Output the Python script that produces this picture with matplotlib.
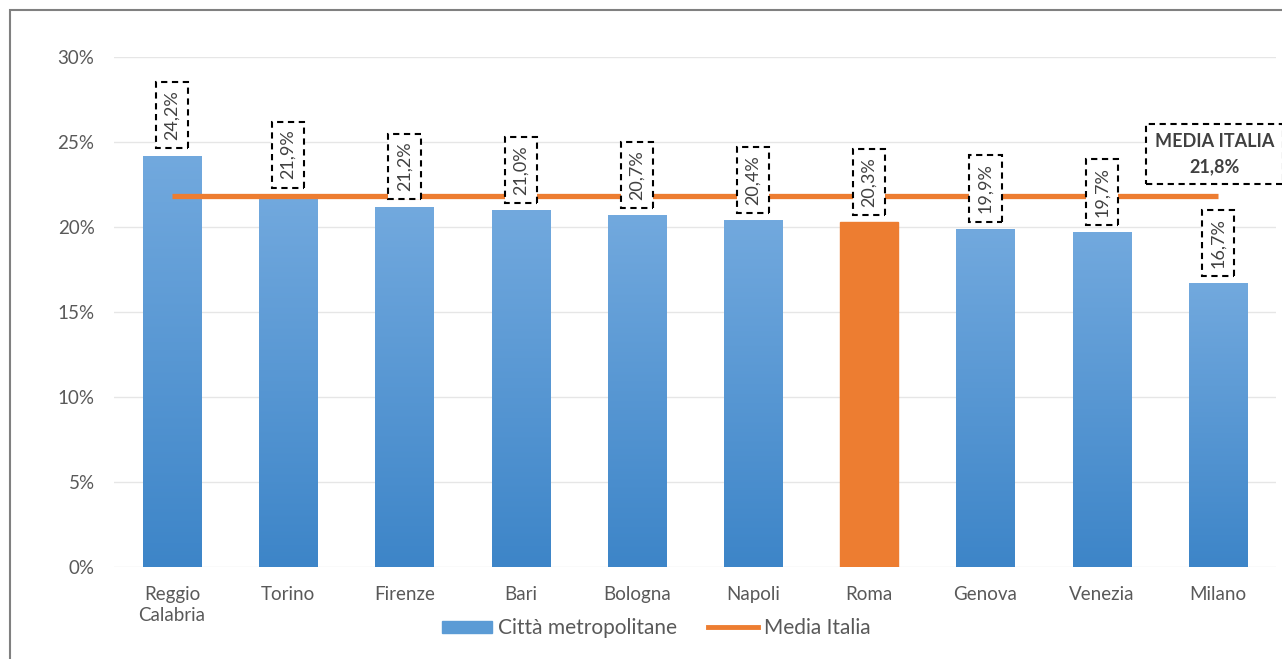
import matplotlib.pyplot as plt
import matplotlib.patches as mpatches
from matplotlib.lines import Line2D
import numpy as np

plt.rcParams['font.family'] = ['Lato', 'DejaVu Sans']

# data
cities = ["Reggio\nCalabria", "Torino", "Firenze", "Bari", "Bologna",
          "Napoli", "Roma", "Genova", "Venezia", "Milano"]
values = [24.2, 21.9, 21.2, 21.0, 20.7, 20.4, 20.3, 19.9, 19.7, 16.7]
media_italia = 21.8
highlight = "Roma"

blue_top = np.array([0x72, 0xA9, 0xDE]) / 255
blue_bot = np.array([0x3D, 0x85, 0xC8]) / 255
orange = "#ED7D31"
text_col = "#595959"

fig = plt.figure(figsize=(12.82, 6.59), dpi=100)
ax = fig.add_axes([0.0889, 0.1396, 0.9064, 0.7739])

x = np.arange(len(cities))
vals = np.array(values) / 100
bars = ax.bar(x, vals, width=0.5, color="#5B9BD5", zorder=2)

# vertical gradient on the blue bars, flat orange for Roma
grad = np.linspace(0, 1, 256).reshape(-1, 1)
cmap_img = (blue_bot[None, :] * (1 - grad) + blue_top[None, :] * grad)[:, None, :]
for b, name in zip(bars, cities):
    if name == highlight:
        b.set_color(orange)
        continue
    b.set_alpha(0)
    x0, w, h = b.get_x(), b.get_width(), b.get_height()
    im = ax.imshow(cmap_img, extent=[x0, x0 + w, 0, h], origin="lower",
                   aspect="auto", zorder=2)
    clip = mpatches.Rectangle((x0, 0), w, h, transform=ax.transData)
    im.set_clip_path(clip)

# media italia line
ax.plot(x, [media_italia / 100] * len(x), color=orange, lw=3.8, zorder=3,
        solid_capstyle="butt")

# value labels
for xi, v in zip(x, values):
    ax.annotate(f"{v:.1f}%".replace(".", ","), (xi, v / 100),
                xytext=(0, 11), textcoords="offset points",
                rotation=90, ha="center", va="bottom", fontsize=13,
                color="#404040", zorder=4,
                bbox=dict(boxstyle="square,pad=0.45", fc="white",
                          ec="black", ls=(0, (3, 2.2)), lw=1.5))

ax.text(8.97, 0.2429, "MEDIA ITALIA\n" + f"{media_italia:.1f}%".replace(".", ","),
        ha="center", va="center", fontsize=13, fontweight="bold",
        color="#404040", linespacing=1.55, clip_on=False, zorder=5,
        bbox=dict(boxstyle="square,pad=0.5", fc="white", ec="black",
                  ls=(0, (3, 2.2)), lw=1.5))

ax.set_xlim(-0.5, len(cities) - 0.5)
ax.set_ylim(0, 0.30)
ax.set_yticks(np.arange(0, 0.31, 0.05))
ax.set_yticklabels([f"{int(t)}%" for t in np.arange(0, 31, 5)])
ax.set_xticks(x)
ax.set_xticklabels(cities, linespacing=1.25)
ax.tick_params(length=0, colors=text_col, labelsize=13.5)
ax.tick_params(axis="y", pad=14)
ax.tick_params(axis="x", pad=14)
ax.grid(axis="y", color="#E6E6E6", lw=1, zorder=0)
ax.set_axisbelow(True)
for s in ax.spines.values():
    s.set_visible(False)

handles = [mpatches.Patch(color="#5B9BD5", label="Città metropolitane"),
           Line2D([], [], color=orange, lw=3.5, label="Media Italia")]
leg = fig.legend(handles=handles, loc="center", bbox_to_anchor=(0.512, 0.047),
                 ncol=2, frameon=False, fontsize=15, handlelength=2.4,
                 handleheight=0.5, handletextpad=0.3, columnspacing=1.5)
for t in leg.get_texts():
    t.set_color(text_col)

# outer chart frame
fig.patches.append(mpatches.Rectangle((0.0078, -0.1), 1.1, 1.085,
                                      transform=fig.transFigure, fill=False,
                                      ec="#808080", lw=1.5))

fig.savefig("out.png", dpi=100)
